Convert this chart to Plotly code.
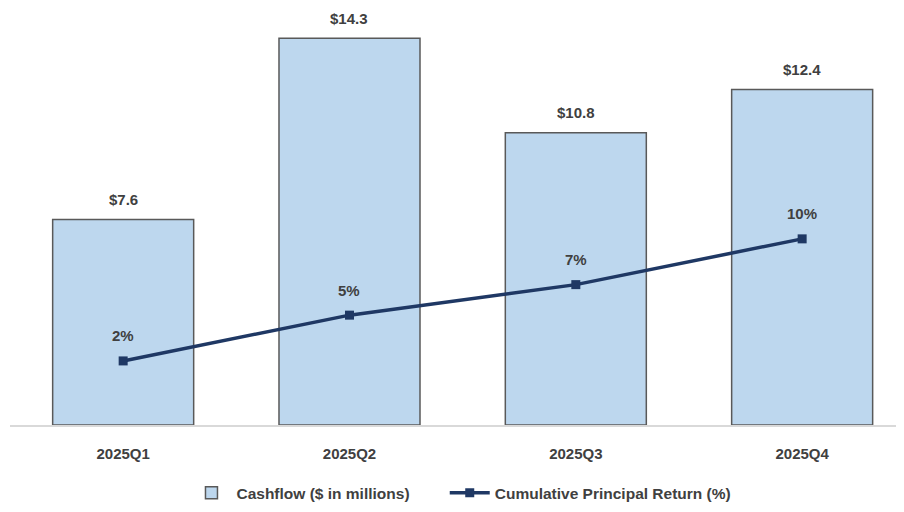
import plotly.graph_objects as go

quarters = ["2025Q1", "2025Q2", "2025Q3", "2025Q4"]
cashflow = [7.6, 14.3, 10.8, 12.4]
cum_return = [2, 5, 7, 10]
cash_labels = ["$7.6", "$14.3", "$10.8", "$12.4"]
ret_labels = ["2%", "5%", "7%", "10%"]

FONT = "Liberation Sans Narrow, Arial Narrow, Liberation Sans, Arial"
TXT = "#404040"

fig = go.Figure()
fig.add_trace(go.Bar(
    x=quarters, y=cashflow, name="<b>Cashflow ($ in millions)</b>" + "\u00a0" * 7,
    marker=dict(color="#BDD7EE", line=dict(color="#595959", width=1.5)),
    width=0.623, yaxis="y",
))
fig.add_trace(go.Scatter(
    x=quarters, y=cum_return, name="<b>Cumulative Principal Return (%)</b>",
    mode="lines+markers", yaxis="y2",
    line=dict(color="#1F3864", width=3.5),
    marker=dict(symbol="square", size=9, color="#1F3864"),
))

for q, v, t in zip(quarters, cashflow, cash_labels):
    fig.add_annotation(x=q, y=v, yref="y", text=f"<b>{t}</b>", showarrow=False,
                       yshift=20, font=dict(family=FONT, size=15, color=TXT))
for q, v, t in zip(quarters, cum_return, ret_labels):
    fig.add_annotation(x=q, y=v, yref="y2", text=f"<b>{t}</b>", showarrow=False,
                       yshift=25, font=dict(family=FONT, size=15, color=TXT))

fig.update_layout(
    width=904, height=512,
    margin=dict(l=2, r=8, t=2, b=95),
    plot_bgcolor="white", paper_bgcolor="white",
    showlegend=True,
    legend=dict(orientation="h", x=0.505, xanchor="center", y=-0.164, yanchor="middle",
                font=dict(family=FONT, size=15.5, color=TXT), itemwidth=40,
                traceorder="normal"),
    xaxis=dict(range=[-0.5, 3.45], showgrid=False, showline=True, linecolor="#D9D9D9",
               linewidth=1.5, ticks="", ticklabelstandoff=14,
               tickfont=dict(family=FONT, size=15, color=TXT),
               tickvals=quarters, ticktext=[f"<b>{q}</b>" for q in quarters]),
    yaxis=dict(range=[0, 15.34], visible=False, showgrid=False),
    yaxis2=dict(range=[-2.2, 25.0], overlaying="y", side="right", visible=False, showgrid=False),
    bargap=0.377,
)

fig.write_html("out.html")
